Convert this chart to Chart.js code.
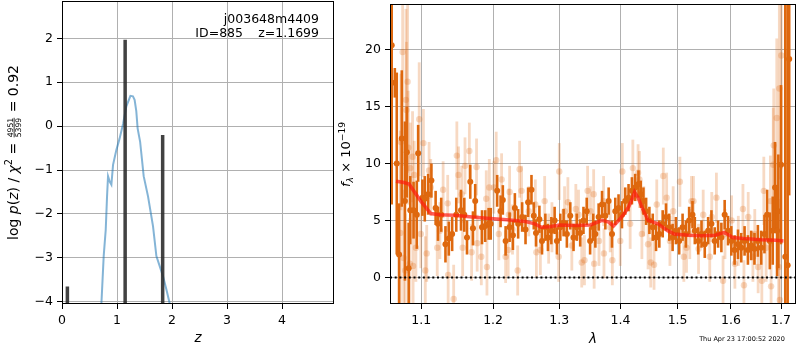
<!DOCTYPE html>
<html>
<head>
<meta charset="utf-8">
<script src="https://cdn.jsdelivr.net/npm/chart.js@4.4.1/dist/chart.umd.min.js"></script>
<style>
body{margin:0;background:#fff;}
#wrap{position:relative;width:800px;height:350px;overflow:hidden;}
#pz{position:absolute;left:0;top:0;}
#spec{position:absolute;left:335px;top:0;}
</style>
</head>
<body>
<div id="wrap">
<canvas id="pz" width="340" height="350"></canvas>
<canvas id="spec" width="465" height="350"></canvas>
</div>
<script>
/* P(z) PANEL DATA */

const pzZ = [0.70,0.716,0.758,0.795,0.819,0.837,0.867,0.898,0.928,0.989,1.045,1.11,1.17,1.244,1.29,1.32,1.35,1.375,1.40,1.42,1.485,1.564,1.655,1.716,1.837,1.898,1.958,1.98];
const pzLog = [-4.4,-4.05,-2.96,-2.36,-1.60,-1.14,-1.26,-1.33,-0.88,-0.54,-0.29,0.05,0.45,0.69,0.68,0.6,0.35,-0.05,-0.22,-0.35,-1.14,-1.60,-2.28,-2.96,-3.42,-3.72,-4.04,-4.2];

const spikeZ = [0.098,1.148,1.83];
const spikeTop = [-3.65,1.97,-0.20];

const pzXTicks = [0,1,2,3,4];
const pzYTicks = [-4,-3,-2,-1,0,1,2];
const pzXMin = 0, pzXMax = 4.945;
const pzYMin = -4.05, pzYMax = 2.85;

/* SPECTRUM PANEL DATA */

const darkWave = [
1.0615,1.0655,1.068,1.071,1.0745,1.0786,1.0811,1.0835,1.0856,1.0899,1.0942,1.0960,1.1017,1.1048,1.1093,1.1137,1.1194,1.1226,1.1270,1.1328,1.1374,1.1420,1.1477,1.1543,1.1589,1.1627,1.1673,1.1711,1.1743,1.1840,1.1886,1.1935,
1.1965,1.2059,1.2109,1.2142,1.2183,1.2242,1.2291,1.2320,1.2369,1.2429,1.2480,1.2519,1.2570,1.2605,1.2639,1.2691,1.2731,1.2783,1.2823,1.2876,1.2927,1.2963,1.3016,1.3068,1.3120,1.3174,1.3226,1.3278,1.3333,1.3386,1.3439,1.3494,
1.3545,1.3580,1.3634,1.3690,1.3745,1.3800,1.3856,1.3911,1.3966,1.4024,1.4080,1.4136,1.4194,1.4250,1.4307,1.4348,1.4393,1.4440,1.4497,1.4556,1.4614,1.4672,1.4732,1.4791,1.4850,1.4910,1.4970,1.5029,1.5091,1.5151,1.5211,1.5273,
1.5316,1.5379,1.5440,1.5501,1.5565,1.5627,1.5689,1.5753,1.5816,1.5879,1.5944,1.6007,1.6071,1.6137,1.6201,1.6266,1.6332,1.6397,1.6462,1.6530,1.6596,1.6662,1.6716,1.6770,1.6830,1.6877,1.6918,1.6944,1.6999,1.7087,1.7136,1.7168];
const darkFlux = [
20.4,17.1,10.0,2.0,12.2,6.7,11.0,0.8,5.9,5.9,5.5,10.9,7.0,6.9,7.3,8.5,6.1,4.7,5.5,2.9,3.4,3.8,5.5,5.9,5.5,3.5,8.4,4.3,6.7,4.4,4.5,4.7,
4.7,7.6,5.8,6.8,3.2,4.4,3.7,6.1,4.7,5.3,4.2,6.6,7.7,5.4,3.9,5.1,3.2,4.4,3.5,4.1,5.0,3.2,4.4,4.8,3.8,5.4,3.5,4.4,3.9,5.0,5.8,3.2,
4.4,3.8,5.3,6.4,5.4,6.7,3.8,5.8,6.1,5.5,6.7,7.0,7.6,7.9,8.2,7.3,6.7,5.8,5.0,4.4,3.5,3.8,4.7,5.3,4.4,3.5,4.1,3.2,4.4,3.8,5.0,5.5,
4.1,3.2,3.8,2.9,4.1,4.7,3.2,3.8,3.5,5.5,4.1,3.2,2.4,2.9,2.6,3.2,2.4,2.8,2.5,3.2,2.6,3.8,5.5,3.2,4.1,7.9,4.1,5.8,9.9,1.8,1.05,19.2];
const darkErr = [
14,1.3,8,4.5,6,7,4,4,3,2.5,3,2.5,1.6,2,1.8,1.5,1.5,1.5,1.5,1.6,1.5,1.5,1.5,1.8,1.5,1.5,1.5,1.5,1.5,1.5,1.4,1.4,
1.4,1.4,1.4,1.3,1.3,1.3,1.3,1.3,1.3,1.3,1.3,1.3,1.3,1.2,1.2,1.2,1.2,1.2,1.2,1.2,1.2,1.2,1.2,1.2,1.2,1.2,1.2,1.2,1.2,1.2,1.2,1.2,
1.2,1.2,1.2,1.2,1.2,1.2,1.2,1.2,1.2,1.2,1.2,1.2,1.2,1.2,1.2,1.2,1.2,1.2,1.2,1.2,1.2,1.2,1.2,1.2,1.2,1.2,1.2,1.2,1.2,1.2,1.2,1.2,
1.2,1.2,1.2,1.2,1.2,1.2,1.2,1.2,1.3,1.3,1.3,1.3,1.3,1.3,1.3,1.3,1.3,1.3,1.4,1.4,1.5,1.7,2.2,2.5,3,4,4,5,7,25,25,12];

const lightWave = [
1.0726,1.0734,1.0756,1.0769,1.0790,1.0799,1.0805,1.0821,1.0829,1.0850,1.0856,1.0886,1.0893,1.0908,1.0930,1.0974,1.0995,1.1030,1.1055,1.1074,1.1106,1.1128,1.1216,1.1252,1.1296,1.1359,1.1365,1.1441,1.1485,1.1508,1.1553,1.1566,1.1599,1.1660,1.1692,1.1762,1.1771,1.1830,1.1901,1.1911,1.1945,
1.2011,1.2045,1.2083,1.2124,1.2183,1.2221,1.2230,1.2242,1.2285,1.2362,1.2391,1.2420,1.2529,1.2629,1.2645,1.2706,1.2772,1.2834,1.2885,1.2990,1.3000,1.3083,1.3136,1.3199,1.3263,1.3306,1.3358,1.3402,1.3453,1.3500,
1.3552,1.3560,1.3640,1.3716,1.3722,1.3826,1.3862,1.3995,1.4030,1.4164,1.4210,1.4300,1.4324,1.4366,1.4400,1.4474,1.4521,1.4579,1.4627,1.4743,1.4803,1.4862,1.4920,1.5042,1.5114,1.5163,1.5223,1.5254,
1.5291,1.5385,1.5472,1.5595,1.5633,1.5721,1.5848,1.5885,1.6013,1.6077,1.6143,1.6234,1.6254,1.6338,1.6431,1.6468,1.6535,1.6609,1.6649,1.6695,1.6782,1.6796,1.6840,1.6850,1.6912,1.6950,1.6965,1.6975,1.7005];
const lightFlux = [
3.9,11.9,19.8,1.7,0.6,15.6,14.7,17.2,11.4,1.2,9.6,10.6,1.0,9.0,2.6,13.9,3.8,11.8,0.6,2.1,9.4,7.9,2.6,4.1,7.7,6.5,0.2,-1.9,10.7,9.0,7.3,2.6,9.8,11.1,2.2,9.7,3.0,1.8,6.9,0.9,7.9,
7.9,10.3,3.8,8.6,1.8,2.4,5.5,7.5,4.2,0.6,9.5,7.6,5.8,6.4,2.2,2.4,6.7,3.4,4.4,1.8,9.3,5.8,6.6,2.8,6.0,5.5,1.3,1.5,7.6,5.8,
7.3,1.2,3.2,6.7,2.1,4.4,1.5,3.2,9.3,4.7,9.6,9.2,8.6,3.8,5.8,2.9,1.3,1.1,6.4,8.9,7.0,3.2,5.8,8.4,1.8,2.6,3.8,6.7,
6.7,2.5,5.5,1.8,5.3,7.0,-0.3,3.8,5.0,1.2,3.2,6.0,-0.7,5.3,1.8,3.8,0.9,-0.3,7.6,2.6,6.7,-0.8,9.9,11.6,14.0,0.9,16.6,-2.0,19.5];
const lightErr = [
9,6,10,6,5,8,6,8,5,4,4,4,4,3,3,5,3,3,3,2.5,2.5,2.5,2.5,2.5,2.5,2.5,2.5,3,3,2.5,2.5,2.5,2.5,2.5,2.5,2.5,2.5,2.5,2.5,2.5,2.5,
2.3,2.5,2.3,2.3,2.3,2.3,2.3,2.3,2.2,2.2,2.5,2.2,2.2,2.2,2.2,2.2,2.2,2.2,2.2,2.2,2.5,2.2,2.2,2.2,2.2,2.2,2.2,2.2,2.2,2.2,
2.2,2.2,2.2,2.2,2.2,2.2,2.2,2.2,2.5,2.2,2.5,2.5,2.5,2.2,2.2,2.2,2.2,2.2,2.2,2.5,2.2,2.2,2.2,2.2,2.2,2.2,2.2,2.2,
2.2,2.2,2.2,2.2,2.2,2.2,2.2,2.2,2.2,2.2,2.2,2.2,2.2,2.2,2.2,2.2,2.3,2.5,3,3,4,4,5,5,7,6,8,8,10];

const modelWave = [1.067,1.076,1.084,1.090,1.0995,1.108,1.113,1.125,1.144,1.17,1.191,1.22,1.248,1.262,1.272,1.285,1.30,1.325,1.35,1.369,1.38,1.388,1.395,1.405,1.414,1.42,1.424,1.43,1.438,1.4475,1.465,1.482,1.494,1.52,1.543,1.57,1.587,1.595,1.603,1.625,1.66,1.69,1.705];
const modelFlux = [8.45,8.35,8.2,7.6,6.7,6.0,5.6,5.5,5.45,5.3,5.2,5.05,4.9,4.7,4.4,4.45,4.6,4.55,4.6,5.0,4.85,4.5,4.9,5.5,6.2,6.9,7.5,7.0,6.0,5.0,4.7,4.1,3.8,3.7,3.66,3.7,3.95,3.75,3.5,3.4,3.3,3.25,3.2];

const specXTicks = [1.1,1.2,1.3,1.4,1.5,1.6,1.7];
const specYTicks = [0,5,10,15,20];
const specXMin = 1.0593, specXMax = 1.731;
const specYMin = -2.35, specYMax = 24.03;

/* HELPERS */

Chart.defaults.font.family = '"DejaVu Sans", sans-serif';
Chart.defaults.font.size = 12.5;
Chart.defaults.color = '#000';

const ORANGE = 'rgb(222,104,14)';
const ORANGE_LT = 'rgba(222,104,14,0.25)';

function fmt(v){ return v < 0 ? '\u2212' + Math.abs(v) : String(v); }

// horizontal axis: fixed height, no label overhang padding
function fitX(h){ return s => { s.height = h; s.paddingLeft = 0; s.paddingRight = 0; }; }
// vertical axis: fixed width, no label overhang padding
function fitY(w){ return s => { s.width = w; s.paddingTop = 0; s.paddingBottom = 0; }; }

function axis(ticksList, min, max, extra){
  return Object.assign({
    min: min, max: max,
    afterBuildTicks: s => { s.ticks = ticksList.map(v => ({value: v})); },
    grid: {color: '#b0b0b0', lineWidth: 1, tickColor: '#000', tickLength: 5},
    border: {display: false},
    ticks: {autoSkip: false, maxRotation: 0, padding: 4, callback: v => fmt(v)}
  }, extra);
}

function drawFrame(chart){
  const ctx = chart.ctx, a = chart.chartArea;
  ctx.save();
  ctx.strokeStyle = '#000';
  ctx.lineWidth = 1;
  ctx.strokeRect(Math.round(a.left) + 0.5, Math.round(a.top) + 0.5, Math.round(a.right - a.left) - 1, Math.round(a.bottom - a.top) - 1);
  ctx.restore();
}

// rotated label made of runs: plain, italic, super/sub scripts, small fraction
function mathLabel(ctx, runs, bx, cy, length){
  const font = (r, size) => (r.it ? 'italic ' : '') + (size * (r.s || 1)) + 'px "DejaVu Sans"';
  const measure = size => runs.map(r => {
    ctx.font = font(r, size);
    if(r.frac) return Math.max(ctx.measureText(r.frac[0]).width, ctx.measureText(r.frac[1]).width) + 2;
    return ctx.measureText(r.t).width;
  });
  let w = measure(14), total = w.reduce((a, b) => a + b, 0);
  const size = 14 * length / total;
  w = measure(size);
  total = w.reduce((a, b) => a + b, 0);

  ctx.save();
  ctx.translate(bx, cy);
  ctx.rotate(-Math.PI / 2);
  ctx.fillStyle = '#000';
  ctx.textBaseline = 'alphabetic';
  let x = -total / 2;
  runs.forEach((r, i) => {
    ctx.font = font(r, size);
    if(r.frac){
      const ax = -size * 0.3, fs = size * r.s;
      const mid = x + w[i] / 2;
      ctx.textAlign = 'center';
      ctx.fillText(r.frac[0], mid, ax - fs * 0.2);
      ctx.fillText(r.frac[1], mid, ax + fs * 0.92);
      ctx.fillRect(x + 1, ax - 0.4, w[i] - 2, 0.8);
      ctx.textAlign = 'left';
    } else {
      ctx.fillText(r.t, x, (r.dy || 0) * size);
    }
    x += w[i];
  });
  ctx.restore();
}

/* LEFT: P(z) */

const spikeData = [];
spikeZ.forEach((z, i) => {
  spikeData.push({x: z, y: pzYMin}, {x: z, y: spikeTop[i]}, {x: z, y: null});
});

new Chart(document.getElementById('pz'), {
  type: 'scatter',
  data: {
    datasets: [{
      data: spikeData,
      showLine: true,
      borderColor: 'rgba(40,40,40,0.88)',
      borderWidth: 3.5,
      borderCapStyle: 'butt',
      pointRadius: 0,
      spanGaps: false,
      clip: 0,
      order: 0
    }, {
      data: pzZ.map((z, i) => ({x: z, y: pzLog[i]})),
      showLine: true,
      borderColor: 'rgba(31,119,180,0.55)',
      borderWidth: 2,
      pointRadius: 0,
      tension: 0,
      clip: 0,
      order: 1
    }]
  },
  options: {
    responsive: false,
    devicePixelRatio: 1,
    animation: false,
    layout: {padding: {left: 0, right: 6, top: 1, bottom: 0}},
    plugins: {legend: {display: false}, tooltip: {enabled: false}},
    scales: {
      x: axis(pzXTicks, pzXMin, pzXMax, {
        type: 'linear', offset: false,
        afterFit: fitX(46),
        title: {display: true, text: 'z', font: {size: 13.5, style: 'italic'}, padding: {top: 0, bottom: 3}}
      }),
      y: axis(pzYTicks, pzYMin, pzYMax, {
        type: 'linear',
        afterFit: fitY(62)
      })
    }
  },
  plugins: [{
    id: 'pzDecor',
    afterDraw(chart){
      drawFrame(chart);
      const ctx = chart.ctx;
      ctx.save();
      ctx.fillStyle = '#000';
      ctx.font = '12.5px "DejaVu Sans"';
      ctx.textAlign = 'right';
      ctx.textBaseline = 'middle';
      ctx.fillText('j003648m4409', 319, 20);
      ctx.fillText('ID=885', 243, 34);
      ctx.fillText('z=1.1699', 319, 34);
      ctx.restore();
      mathLabel(ctx, [
        {t: 'log '}, {t: 'p', it: 1}, {t: '('}, {t: 'z', it: 1}, {t: ') / '},
        {t: '\u03c7', it: 1}, {t: '2', s: 0.7, dy: -0.42}, {t: ' = '},
        {frac: ['4951', '5399'], s: 0.55}, {t: ' = 0.92'}
      ], 18.3, 152.5, 175);
    }
  }]
});

/* RIGHT: SPECTRUM */

const errorBars = {
  id: 'errorBars',
  beforeDatasetDraw(chart, args){
    const ds = chart.data.datasets[args.index];
    if(!ds.yErr) return;
    const xs = chart.scales.x, ys = chart.scales.y, ctx = chart.ctx, a = chart.chartArea;
    ctx.save();
    ctx.beginPath();
    ctx.rect(a.left, a.top, a.right - a.left, a.bottom - a.top);
    ctx.clip();
    ctx.strokeStyle = ds.errColor;
    ctx.lineWidth = ds.errWidth;
    ds.data.forEach((p, i) => {
      const e = ds.yErr[i] || 0;
      const px = xs.getPixelForValue(p.x);
      const top = Math.max(ys.getPixelForValue(p.y + e), a.top - 5);
      const bot = Math.min(ys.getPixelForValue(p.y - e), a.bottom + 5);
      ctx.beginPath();
      ctx.moveTo(px, bot);
      ctx.lineTo(px, top);
      ctx.stroke();
    });
    ctx.restore();
  }
};

new Chart(document.getElementById('spec'), {
  type: 'scatter',
  data: {
    datasets: [{
      data: modelWave.map((w, i) => ({x: w, y: modelFlux[i]})),
      showLine: true,
      borderColor: 'rgba(255,25,15,0.7)',
      borderWidth: 3.5,
      pointRadius: 0,
      tension: 0,
      order: 0
    }, {
      data: darkWave.map((w, i) => ({x: w, y: darkFlux[i]})),
      yErr: darkErr,
      errColor: ORANGE,
      errWidth: 2.6,
      backgroundColor: ORANGE,
      borderWidth: 0,
      pointRadius: 3,
      order: 1
    }, {
      data: lightWave.map((w, i) => ({x: w, y: lightFlux[i]})),
      yErr: lightErr,
      errColor: ORANGE_LT,
      errWidth: 2.8,
      backgroundColor: ORANGE_LT,
      borderWidth: 0,
      pointRadius: 3.2,
      order: 2
    }]
  },
  options: {
    responsive: false,
    devicePixelRatio: 1,
    animation: false,
    layout: {padding: {left: 0, right: 1, top: 1, bottom: 0}},
    plugins: {legend: {display: false}, tooltip: {enabled: false}},
    scales: {
      x: axis(specXTicks, specXMin, specXMax, {
        type: 'logarithmic',
        afterFit: fitX(46),
        ticks: {autoSkip: false, maxRotation: 0, padding: 4, callback: v => Number(v).toFixed(1)},
        title: {display: true, text: '\u03bb', font: {size: 13.5, style: 'italic'}, padding: {top: 0, bottom: 2}}
      }),
      y: axis(specYTicks, specYMin, specYMax, {
        type: 'linear',
        afterFit: fitY(55)
      })
    }
  },
  plugins: [errorBars, {
    id: 'specDecor',
    afterDatasetsDraw(chart){
      const ctx = chart.ctx, a = chart.chartArea;
      const y0 = Math.round(chart.scales.y.getPixelForValue(0)) + 0.5;
      ctx.save();
      ctx.strokeStyle = '#000';
      ctx.lineWidth = 2;
      ctx.setLineDash([2, 2.7]);
      ctx.beginPath();
      ctx.moveTo(a.left, y0);
      ctx.lineTo(a.right, y0);
      ctx.stroke();
      ctx.restore();
    },
    afterDraw(chart){
      drawFrame(chart);
      const ctx = chart.ctx;
      mathLabel(ctx, [
        {t: 'f', it: 1}, {t: '\u03bb', it: 1, s: 0.7, dy: 0.22},
        {t: ' \u00d7 10'}, {t: '\u221219', s: 0.7, dy: -0.42}
      ], 15, 154.5, 65);
      ctx.save();
      ctx.fillStyle = '#000';
      ctx.font = '6.5px "DejaVu Sans"';
      ctx.textAlign = 'center';
      ctx.textBaseline = 'middle';
      ctx.fillText('Thu Apr 23 17:00:52 2020', 407, 339.5);
      ctx.restore();
    }
  }]
});
</script>
</body>
</html>
